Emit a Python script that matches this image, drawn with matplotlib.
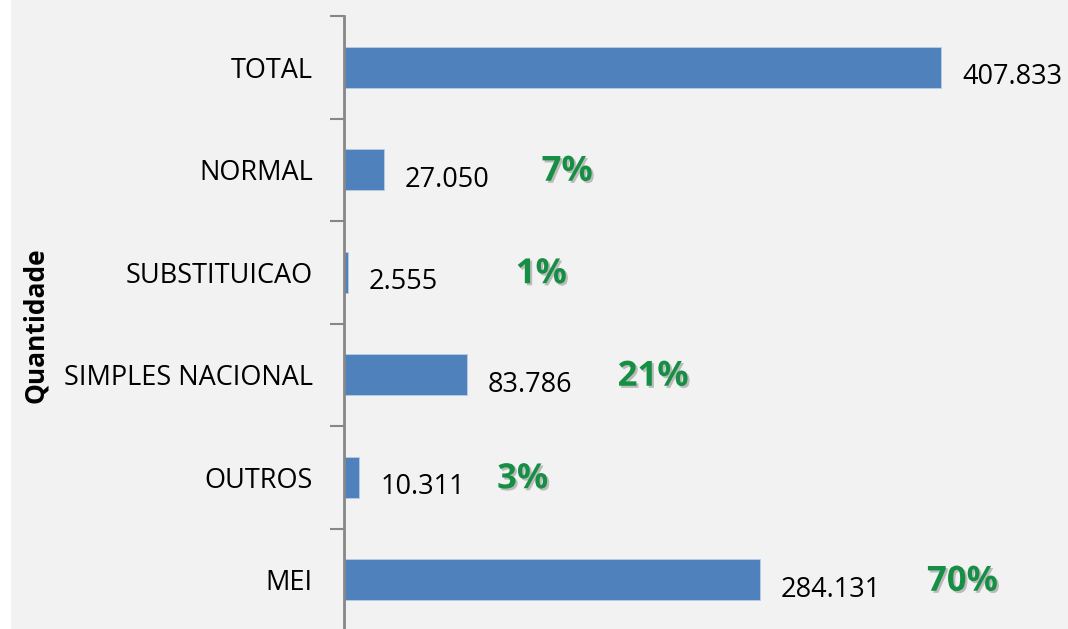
import numpy as np
import matplotlib.pyplot as plt
import matplotlib.patheffects as pe

categories = ['TOTAL', 'NORMAL', 'SUBSTITUICAO', 'SIMPLES NACIONAL', 'OUTROS', 'MEI']
values = [407833, 27050, 2555, 83786, 10311, 284131]
value_labels = ['407.833', '27.050', '2.555', '83.786', '10.311', '284.131']
pct_labels = ['', '7%', '1%', '21%', '3%', '70%']

# label offsets in pixels from bar end (percent labels were placed by hand)
pct_offsets = [0, 158, 168, 151, 138, 167]

plt.rcParams['font.family'] = ['Open Sans', 'DejaVu Sans']
PX = 0.72  # points per pixel at dpi 100

fig = plt.figure(figsize=(10.68, 6.29), dpi=100)
fig.patch.set_facecolor('#f2f2f2')
fig.add_artist(plt.Rectangle((0, 0), 10 / 1068, 1, transform=fig.transFigure,
                             color='white', zorder=0))

ax = fig.add_axes([344 / 1068, 1 - 631 / 629, 732 / 1068, 615 / 629])
ax.set_facecolor('#f2f2f2')

y = np.arange(len(categories))
ax.barh(y, values, height=0.4, color='#4f81bd', edgecolor='#b9cde5', linewidth=0.6)
ax.set_ylim(len(categories) - 0.5, -0.5)
ax.set_xlim(0, 500000)

for yi, v, lab, pct, off in zip(y, values, value_labels, pct_labels, pct_offsets):
    ax.annotate(lab, (v, yi), xytext=(21 * PX, -10 * PX), textcoords='offset points',
                ha='left', va='center', fontsize=19.5, color='black')
    if pct:
        ax.annotate(pct, (v, yi), xytext=(off * PX, -2 * PX), textcoords='offset points',
                    ha='left', va='center', fontsize=25, fontweight='bold', color='#168f45',
                    path_effects=[pe.SimplePatchShadow(offset=(1.5, -1.5), alpha=0.35,
                                                       shadow_rgbFace='#555555'),
                                  pe.Normal()])

ax.set_yticks(np.arange(-0.5, len(categories) + 0.5, 1))
ax.set_yticklabels([])
ax.set_yticks(y, minor=True)
ax.set_yticklabels(categories, minor=True, fontsize=19.5)
ax.tick_params(axis='y', which='major', length=10, width=1.5, color='#878787', direction='out')
ax.tick_params(axis='y', which='minor', length=0, pad=31 * PX)
ax.set_xticks([])

for s in ['top', 'right', 'bottom']:
    ax.spines[s].set_visible(False)
ax.spines['left'].set_color('#878787')
ax.spines['left'].set_linewidth(2)

fig.text(36 / 1068, 1 - 325 / 629, 'Quantidade', rotation=90, ha='center', va='center',
         fontsize=19, fontweight='bold')

fig.savefig('out.png', dpi=100, facecolor=fig.get_facecolor())
